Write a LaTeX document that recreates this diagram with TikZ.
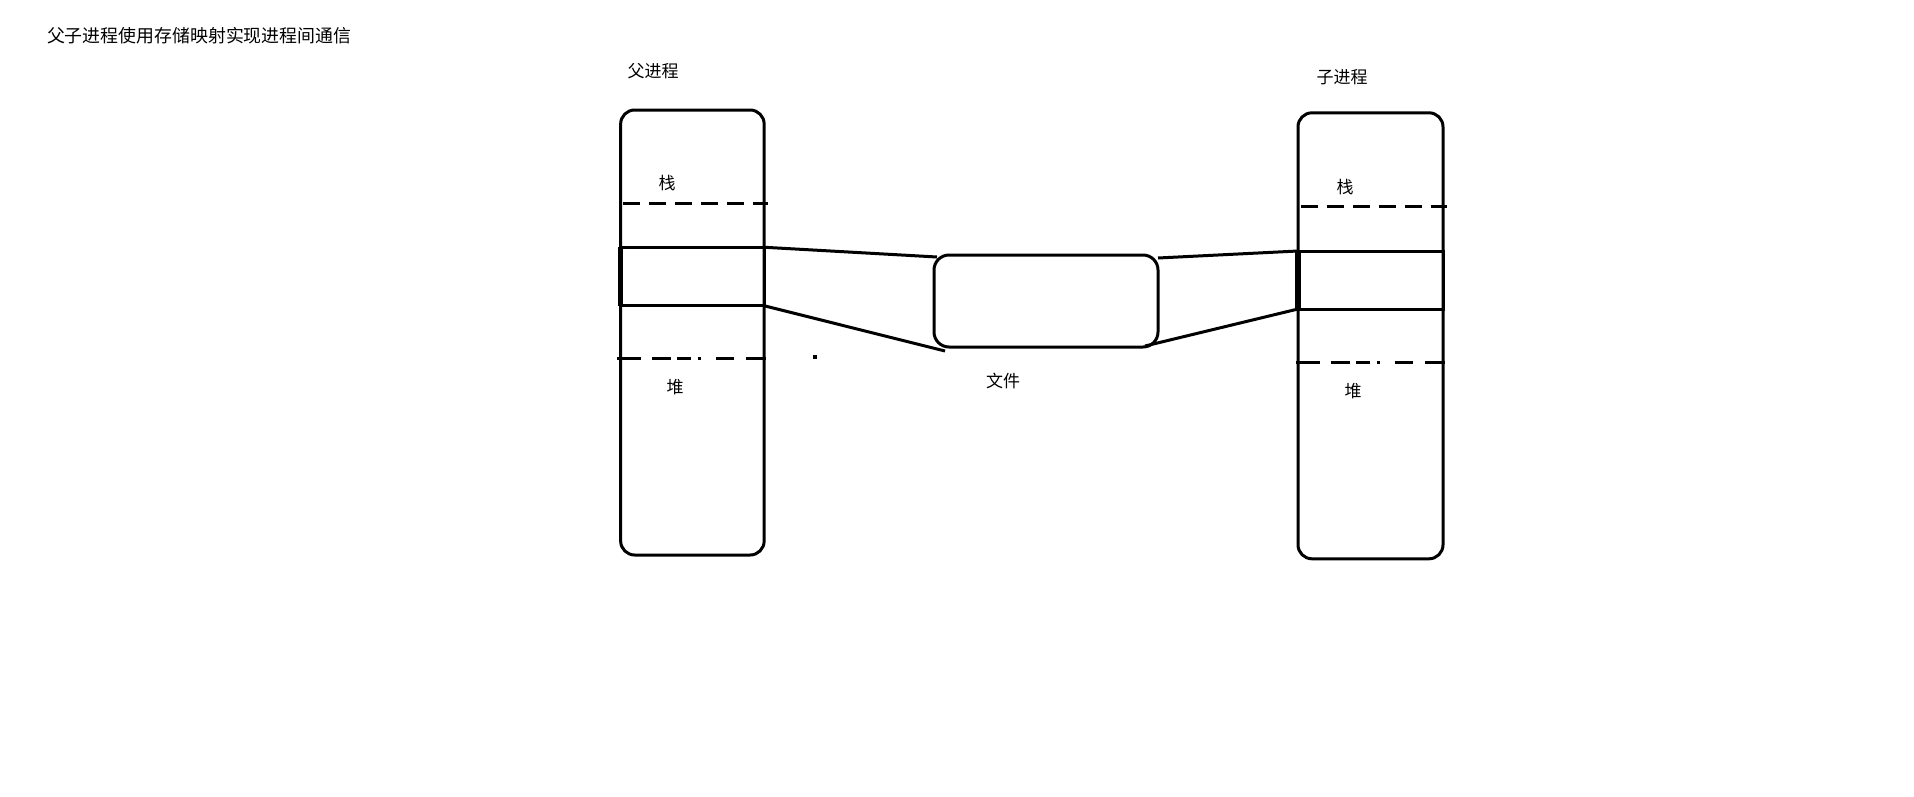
\documentclass[tikz,border=0pt]{standalone}
\usepackage{fontspec}
\newfontfamily\cjk{Noto Sans CJK SC}
\usetikzlibrary{calc}
\begin{document}
\begin{tikzpicture}[x=1pt,y=-1pt,
  every node/.style={inner sep=0pt,outer sep=0pt},
  proc/.style={draw,line width=3pt,rounded corners=14pt,minimum width=143.5pt,minimum height=445pt},
  mapbox/.style={draw,line width=3pt,minimum width=143.5pt,minimum height=58.5pt},
  filebox/.style={draw,line width=3pt,rounded corners=15pt,minimum width=224pt,minimum height=92pt},
  label/.style={font=\cjk\fontsize{17}{20}\selectfont},
  title/.style={font=\cjk\fontsize{17.9}{21}\selectfont,anchor=west},
  link/.style={line width=3pt},
  stackline/.style={line width=3pt,dash pattern=on 17pt off 9pt},
  heapline/.style={line width=3pt,dash pattern=on 24pt off 11pt on 19pt off 6pt on 14pt off 7pt on 3pt off 15pt on 18pt off 12pt on 20pt off 30pt}
]
\useasboundingbox[fill=white] (0,0) rectangle (1914,796);

% title
\node[title] (title) at (47,36) {父子进程使用存储映射实现进程间通信};

% parent process
\node[proc] (parent) at (692.4,332.5) {};
\node[label] (plabel) at (653,71) {父进程};
\node[label] (pstack) at (667,183) {栈};
\node[label] (pheap) at (675,387) {堆};
\node[mapbox] (pmap) at (692.4,276.5) {};
\draw[line width=5.5pt] (pmap.north west) -- (pmap.south west);
\coordinate (ps1) at (623,203.3);
\coordinate (ps2) at (768,203.3);
\draw[stackline] (ps1) -- (ps2);
\coordinate (ph1) at (617,358.3);
\coordinate (ph2) at (767,358.3);
\draw[heapline] (ph1) -- (ph2);
\coordinate (dot) at (815,357);
\fill (dot) +(-2,-2) rectangle +(2,2);

% child process
\node[proc,minimum width=145pt,minimum height=446pt] (child) at (1370.5,335.8) {};
\node[label] (clabel) at (1342,77) {子进程};
\node[label] (cstack) at (1345,187) {栈};
\node[label] (cheap) at (1353,391) {堆};
\node[mapbox,minimum width=145pt,minimum height=58pt] (cmap) at (1370.5,280) {};
\draw[line width=5.5pt] (cmap.north west) -- (cmap.south west);
\coordinate (cs1) at (1301,206.7);
\coordinate (cs2) at (1447,206.7);
\draw[stackline] (cs1) -- (cs2);
\coordinate (ch1) at (1296,362.7);
\coordinate (ch2) at (1445,362.7);
\draw[heapline] (ch1) -- (ch2);

% mapped file
\node[filebox] (file) at (1046,301) {};
\node[label] (flabel) at (1003,381) {文件};

% mapping lines
\draw[link] (pmap.north east) -- ($(file.north west)+(3,2)$);
\draw[link] (pmap.south east) -- ($(file.south west)+(11,4)$);
\draw[link] ($(file.north east)+(0,3)$) -- (cmap.north west);
\draw[link] ($(file.south east)+(-13,-1)$) -- (cmap.south west);
\end{tikzpicture}
\end{document}
